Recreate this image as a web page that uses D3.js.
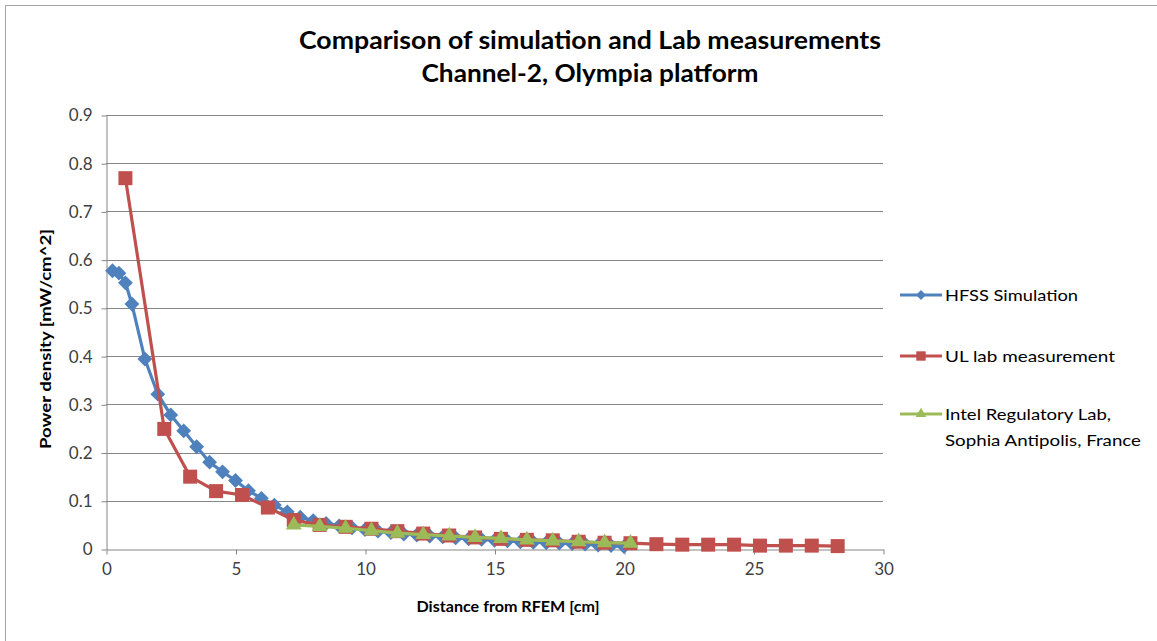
<!DOCTYPE html>
<html><head><meta charset="utf-8">
<script src="https://cdn.jsdelivr.net/npm/d3@7"></script>
<style>body{margin:0;background:#fff;}svg{display:block;font-family:Lato,"Open Sans",sans-serif;}</style>
</head><body><svg id="c" width="1157" height="641"></svg>
<script>
const titleLines = ["Comparison of simulation and Lab measurements", "Channel-2, Olympia platform"];
const xTicks = [0, 5, 10, 15, 20, 25, 30];
const yTicks = [0, 0.1, 0.2, 0.3, 0.4, 0.5, 0.6, 0.7, 0.8, 0.9];
const seriesNames = ["HFSS Simulation", "UL lab measurement", "Intel Regulatory Lab,\nSophia Antipolis, France"];

const hfssX = [0.25,0.5,0.75,1,1.5,2,2.5,3,3.5,4,4.5,5,5.5,6,6.5,7,7.5,8,8.5,9,9.5,10,10.5,11,11.5,12,12.5,13,13.5,14,14.5,15,15.5,16,16.5,17,17.5,18,18.5,19,19.5,20];
const hfssY = [0.577,0.572,0.552,0.508,0.394,0.321,0.278,0.245,0.212,0.18,0.16,0.142,0.121,0.105,0.091,0.077,0.066,0.059,0.053,0.048,0.044,0.04,0.037,0.034,0.031,0.029,0.027,0.025,0.023,0.021,0.02,0.018,0.017,0.015,0.014,0.013,0.012,0.011,0.01,0.008,0.007,0.005];

const ulX = [0.75,2.25,3.25,4.25,5.25,6.25,7.25,8.25,9.25,10.25,11.25,12.25,13.25,14.25,15.25,16.25,17.25,18.25,19.25,20.25,21.25,22.25,23.25,24.25,25.25,26.25,27.25,28.25];
const ulY = [0.769,0.249,0.15,0.12,0.112,0.086,0.06,0.05,0.046,0.042,0.037,0.032,0.028,0.024,0.021,0.019,0.018,0.015,0.013,0.012,0.01,0.009,0.009,0.009,0.007,0.007,0.007,0.006];

const intelX = [7.25,8.25,9.25,10.25,11.25,12.25,13.25,14.25,15.25,16.25,17.25,18.25,19.25,20.25];
const intelY = [0.05,0.047,0.043,0.038,0.033,0.03,0.027,0.024,0.022,0.019,0.017,0.015,0.013,0.012];

const colors = ["#4F81BD", "#C0504D", "#9BBB59"];
const series = [
  {name: seriesNames[0], xs: hfssX, ys: hfssY, color: colors[0], shape: d3.symbolDiamond2, size: 140, legW: [133]},
  {name: seriesNames[1], xs: ulX, ys: ulY, color: colors[1], shape: d3.symbolSquare2, size: 250, legW: [170]},
  {name: seriesNames[2], xs: intelX, ys: intelY, color: colors[2], shape: d3.symbolTriangle2, size: 180, legW: [166, 196]}
];

const svg = d3.select("#c");
const L = 106, R = 883, T = 115, B = 549;
const x = d3.scaleLinear().domain([0, 30]).range([L, R]);
const y = d3.scaleLinear().domain([0, 0.9]).range([B, T]);

// outer frame
svg.append("rect").attr("x", 5.5).attr("y", 5.5).attr("width", 1200).attr("height", 700)
  .attr("fill", "none").attr("stroke", "#a6a6a6").attr("stroke-width", 1);

// title
const titleW = [582, 337];
svg.append("g").selectAll("text").data(titleLines).join("text")
  .attr("x", 590).attr("y", (d, i) => 49 + i * 33)
  .attr("text-anchor", "middle").attr("font-weight", "bold").attr("font-size", 24)
  .attr("textLength", (d, i) => titleW[i]).attr("lengthAdjust", "spacingAndGlyphs")
  .attr("fill", "#000").text(d => d);

// gridlines
svg.append("g").selectAll("line").data(yTicks.filter(d => d > 0)).join("line")
  .attr("x1", L).attr("x2", R).attr("y1", d => Math.round(y(d)) + 0.5).attr("y2", d => Math.round(y(d)) + 0.5)
  .attr("stroke", "#868686").attr("stroke-width", 1);

// y axis
const yAxis = svg.append("g").attr("transform", `translate(${L + 0.5},0.5)`)
  .call(d3.axisLeft(y).tickValues(yTicks).tickSize(5).tickSizeOuter(0).tickPadding(9).tickFormat(d => d === 0 ? "0" : d3.format(".1f")(d)));
yAxis.select(".domain").attr("stroke", "#868686");
yAxis.selectAll(".tick line").attr("stroke", "#868686");
yAxis.selectAll(".tick text").attr("font-size", 17).attr("fill", "#404040").attr("font-family", "Lato, sans-serif");

// x axis
const xAxis = svg.append("g").attr("transform", `translate(0.5,${B + 0.5})`)
  .call(d3.axisBottom(x).tickValues(xTicks).tickSize(5).tickSizeOuter(0).tickPadding(8));
xAxis.select(".domain").attr("stroke", "#868686");
xAxis.selectAll(".tick line").attr("stroke", "#868686");
xAxis.selectAll(".tick text").attr("font-size", 17).attr("fill", "#404040").attr("font-family", "Lato, sans-serif");

// axis titles
svg.append("text").attr("x", 508).attr("y", 612).attr("text-anchor", "middle")
  .attr("font-weight", "bold").attr("font-size", 16)
  .attr("textLength", 183).attr("lengthAdjust", "spacingAndGlyphs").text("Distance from RFEM [cm]");
svg.append("text").attr("transform", "translate(51,339) rotate(-90)").attr("text-anchor", "middle")
  .attr("font-weight", "bold").attr("font-size", 16)
  .attr("textLength", 220).attr("lengthAdjust", "spacingAndGlyphs").text("Power density [mW/cm^2]");

// series
const line = d3.line().x(d => x(d[0])).y(d => y(d[1]));
series.forEach(s => {
  const pts = s.xs.map((v, i) => [v, s.ys[i]]);
  const g = svg.append("g");
  g.append("path").datum(pts).attr("d", line).attr("fill", "none")
    .attr("stroke", s.color).attr("stroke-width", 3.2).attr("stroke-linejoin", "round");
  g.selectAll("path.m").data(pts).join("path").attr("class", "m")
    .attr("transform", d => `translate(${x(d[0])},${y(d[1])})`)
    .attr("d", d3.symbol().type(s.shape).size(s.size)).attr("fill", s.color);
});

// legend
const legY = [295, 356, 414];
series.forEach((s, i) => {
  const g = svg.append("g").attr("transform", `translate(900,${legY[i]})`);
  g.append("line").attr("x1", 0).attr("x2", 42).attr("y1", 0).attr("y2", 0)
    .attr("stroke", s.color).attr("stroke-width", 3);
  g.append("path").attr("transform", "translate(21,0)")
    .attr("d", d3.symbol().type(s.shape).size(s.size * 0.45)).attr("fill", s.color);
  const lines = s.name.split("\n");
  lines.forEach((t, j) => {
    g.append("text").attr("x", 45).attr("y", j * 26).attr("dy", "0.35em")
      .attr("font-size", 16).attr("fill", "#000")
      .attr("textLength", s.legW[j]).attr("lengthAdjust", "spacingAndGlyphs").text(t);
  });
});
</script></body></html>
